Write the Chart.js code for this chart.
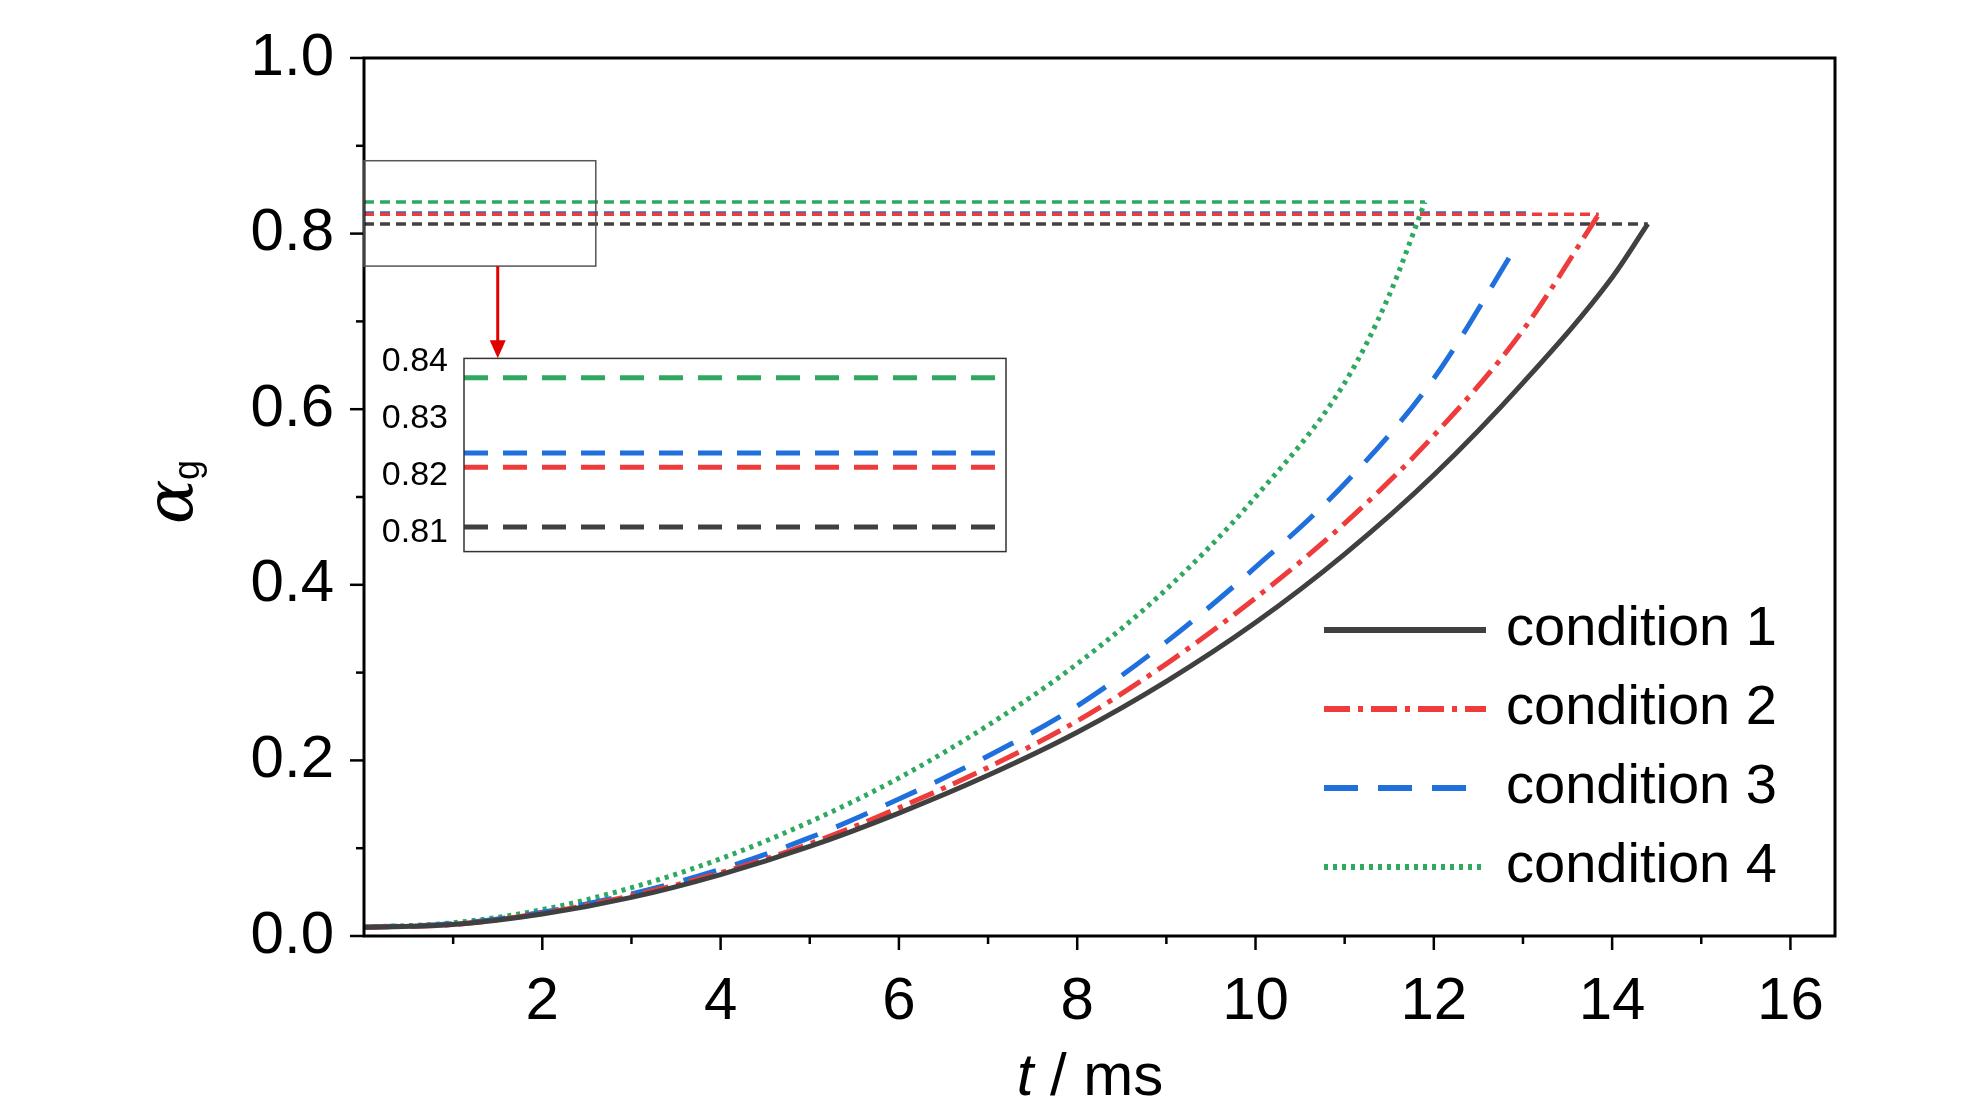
<!DOCTYPE html>
<html><head><meta charset="utf-8">
<script src="https://cdn.jsdelivr.net/npm/chart.js@4"></script>
<style>
html,body{margin:0;padding:0;background:#fff;}
#wrap{position:relative;width:1984px;height:1110px;}
#main{position:absolute;left:0;top:0;}
#inset{position:absolute;left:370px;top:330px;}
</style></head>
<body><div id="wrap">
<canvas id="main" width="1984" height="1110"></canvas>
<canvas id="inset" width="645" height="250"></canvas>
</div>
<script>
const FONT = "'Liberation Sans Narrow', 'Liberation Sans', Arial, sans-serif";

// curves (t in ms, alpha_g)
const t1 = [0, 1, 2, 3, 4, 5, 6, 7, 8, 9, 10, 11, 12, 13, 14, 14.4];
const a1 = [0.01, 0.013, 0.025, 0.044, 0.07, 0.102, 0.14, 0.183, 0.232, 0.29, 0.357, 0.435, 0.525, 0.63, 0.75, 0.811];
const t2 = [0, 1, 2, 3, 4, 5, 6, 7, 8, 9, 10, 11, 12, 13, 13.85];
const a2 = [0.01, 0.013, 0.026, 0.046, 0.072, 0.105, 0.146, 0.192, 0.245, 0.31, 0.385, 0.47, 0.57, 0.69, 0.822];
const t3 = [0, 1, 2, 3, 4, 5, 6, 7, 8, 9, 10, 11, 12, 12.95];
const a3 = [0.01, 0.014, 0.027, 0.048, 0.076, 0.112, 0.156, 0.205, 0.262, 0.335, 0.42, 0.515, 0.635, 0.79];
const t4 = [0, 1, 2, 3, 4, 5, 6, 7, 8, 9, 10, 11, 11.5, 11.9];
const a4 = [0.01, 0.015, 0.03, 0.055, 0.088, 0.13, 0.18, 0.24, 0.31, 0.395, 0.5, 0.63, 0.73, 0.836];

// final plateau values and where the dashed guide lines end
const finalVals = [0.811, 0.822, 0.8235, 0.836];
const finalEnds = [14.4, 13.85, 13.1, 11.9];
// inset levels (read from zoomed box)
const insetVals = [0.811, 0.8215, 0.824, 0.8372];

const names = ["condition 1", "condition 2", "condition 3", "condition 4"];
const colors = ["#404040", "#ee3b3b", "#1f6fdc", "#2fa860"];
const dashes = [[], [26, 8, 5, 8], [34, 20], [4, 5]];

const xTicks = [2, 4, 6, 8, 10, 12, 14, 16];
const yTicks = [0, 0.2, 0.4, 0.6, 0.8, 1.0];

const pts = (xs, ys) => xs.map((x, i) => ({ x: x, y: ys[i] }));

const datasets = [];
[[t1, a1], [t2, a2], [t3, a3], [t4, a4]].forEach((c, i) => {
  datasets.push({ data: pts(c[0], c[1]), borderColor: colors[i], borderWidth: 5, borderDash: dashes[i],
    pointRadius: 0, tension: 0.4, cubicInterpolationMode: "monotone", fill: false });
});
finalVals.forEach((v, i) => {
  datasets.push({ data: [{ x: 0, y: v }, { x: finalEnds[i], y: v }], borderColor: colors[i], borderWidth: 3.5,
    borderDash: [10, 6], pointRadius: 0, fill: false });
});

const framePlugin = {
  id: "frame",
  afterDraw(chart) {
    const { ctx, chartArea: a, scales: { x, y } } = chart;
    ctx.save();
    ctx.strokeStyle = "#000"; ctx.lineWidth = 3;
    ctx.strokeRect(a.left, a.top, a.right - a.left, a.bottom - a.top);
    // ticks
    ctx.lineWidth = 2.5;
    for (let v = 1; v <= 16; v++) {
      const px = x.getPixelForValue(v), len = v % 2 === 0 ? 14 : 8;
      ctx.beginPath(); ctx.moveTo(px, a.bottom); ctx.lineTo(px, a.bottom + len); ctx.stroke();
    }
    for (let k = 0; k <= 10; k++) {
      const py = y.getPixelForValue(k / 10), len = k % 2 === 0 ? 14 : 8;
      ctx.beginPath(); ctx.moveTo(a.left, py); ctx.lineTo(a.left - len, py); ctx.stroke();
    }
    // zoom box
    ctx.strokeStyle = "#555"; ctx.lineWidth = 1.5;
    const bx0 = x.getPixelForValue(0), bx1 = x.getPixelForValue(2.6);
    const by0 = y.getPixelForValue(0.883), by1 = y.getPixelForValue(0.763);
    ctx.strokeRect(bx0, by0, bx1 - bx0, by1 - by0);
    // arrow
    const ax = x.getPixelForValue(1.5), ay1 = y.getPixelForValue(0.658);
    ctx.strokeStyle = "#e00000"; ctx.fillStyle = "#e00000"; ctx.lineWidth = 3;
    ctx.beginPath(); ctx.moveTo(ax, by1); ctx.lineTo(ax, ay1 - 14); ctx.stroke();
    ctx.beginPath(); ctx.moveTo(ax - 8, ay1 - 18); ctx.lineTo(ax + 8, ay1 - 18); ctx.lineTo(ax, ay1); ctx.closePath(); ctx.fill();
    // legend
    ctx.font = "56px " + FONT; ctx.textBaseline = "middle"; ctx.fillStyle = "#000";
    names.forEach((n, i) => {
      const ly = 630 + i * 79;
      ctx.strokeStyle = colors[i]; ctx.lineWidth = 6; ctx.setLineDash(dashes[i]);
      ctx.beginPath(); ctx.moveTo(1324, ly); ctx.lineTo(1486, ly); ctx.stroke();
      ctx.setLineDash([]);
      ctx.fillText(n, 1506, ly);
    });
    // axis titles
    ctx.textAlign = "left";
    ctx.font = "italic 60px " + FONT;
    const tw = ctx.measureText("t").width;
    ctx.font = "60px " + FONT;
    const rw = ctx.measureText(" / ms").width;
    const cx = 1090, cy = 1078;
    ctx.font = "italic 60px " + FONT; ctx.fillText("t", cx - (tw + rw) / 2, cy);
    ctx.font = "60px " + FONT; ctx.fillText(" / ms", cx - (tw + rw) / 2 + tw, cy);
    ctx.save();
    ctx.translate(175, 500); ctx.rotate(-Math.PI / 2);
    ctx.font = "italic 66px 'DejaVu Serif', serif"; ctx.fillText("α", -24, 0);
    ctx.font = "36px " + FONT; ctx.fillText("g", 20, 14);
    ctx.restore();
    ctx.restore();
  }
};

new Chart(document.getElementById("main"), {
  type: "line",
  data: { datasets: datasets },
  options: {
    responsive: false, animation: false,
    layout: { padding: { top: 0, right: 149, left: 0, bottom: 0 } },
    plugins: { legend: { display: false }, tooltip: { enabled: false } },
    scales: {
      x: { type: "linear", min: 0, max: 16.5,
        afterFit: s => { s.height = 174; },
        afterBuildTicks: s => { s.ticks = xTicks.map(v => ({ value: v })); },
        grid: { display: false }, border: { display: false },
        ticks: { color: "#000", font: { size: 60, family: FONT }, padding: 22, maxRotation: 0 } },
      y: { min: 0, max: 1,
        afterFit: s => { s.width = 364; },
        afterBuildTicks: s => { s.ticks = yTicks.map(v => ({ value: v })); },
        grid: { display: false }, border: { display: false },
        ticks: { color: "#000", font: { size: 60, family: FONT }, padding: 22, callback: v => v.toFixed(1) } }
    }
  },
  plugins: [framePlugin]
});

// inset
const insetSets = insetVals.map((v, i) => ({
  data: [{ x: 0, y: v }, { x: 1, y: v }], borderColor: colors[i], borderWidth: 5, borderDash: [24, 15],
  pointRadius: 0, fill: false }));
const insetFrame = {
  id: "insetFrame",
  afterDraw(chart) {
    const { ctx, chartArea: a } = chart;
    ctx.save(); ctx.strokeStyle = "#333"; ctx.lineWidth = 1.5;
    ctx.strokeRect(a.left, a.top, a.right - a.left, a.bottom - a.top);
    ctx.restore();
  }
};
new Chart(document.getElementById("inset"), {
  type: "line",
  data: { datasets: insetSets },
  options: {
    responsive: false, animation: false,
    layout: { padding: { top: 0, right: 9, left: 0, bottom: 0 } },
    plugins: { legend: { display: false }, tooltip: { enabled: false } },
    scales: {
      x: { type: "linear", min: 0, max: 1, display: true, afterFit: s => { s.height = 12; },
        grid: { display: false }, border: { display: false }, ticks: { display: false } },
      y: { min: 0.8067, max: 0.8406, afterFit: s => { s.width = 94; },
        afterBuildTicks: s => { s.ticks = [0.81, 0.82, 0.83, 0.84].map(v => ({ value: v })); },
        grid: { display: false }, border: { display: false },
        ticks: { color: "#000", font: { size: 34, family: FONT }, padding: 8, callback: v => v.toFixed(2) } }
    }
  },
  plugins: [insetFrame]
});
</script>
</body></html>
